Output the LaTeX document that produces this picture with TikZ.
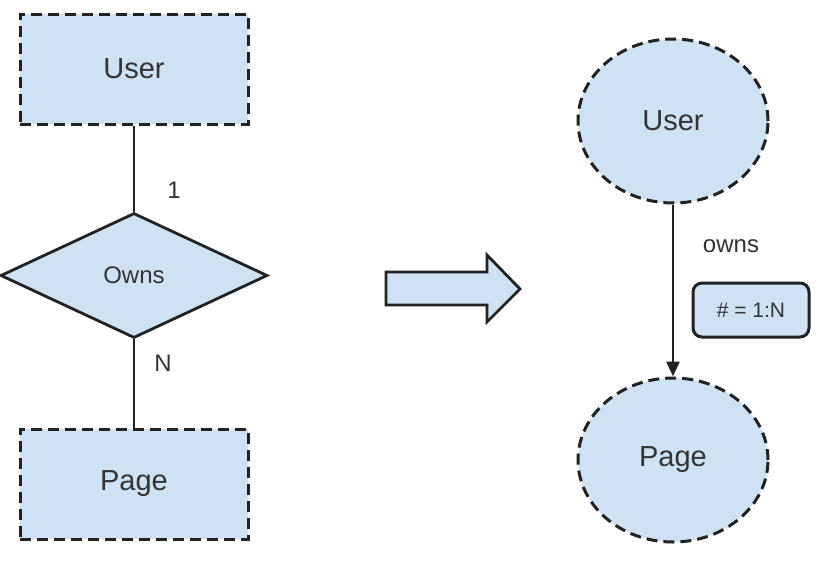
\documentclass[tikz,border=0pt]{standalone}
\usepackage{fontspec}
\setmainfont{Liberation Sans}
\usetikzlibrary{shapes.geometric,arrows.meta}
\definecolor{fillblue}{HTML}{CFE2F3}
\definecolor{txt}{HTML}{333333}
\definecolor{ln}{HTML}{222222}
\tikzset{
  dashbox/.style={draw=ln, fill=fillblue, line width=3pt, dash pattern=on 11pt off 6pt, text=txt},
  entity/.style={dashbox, rectangle, minimum width=228pt, minimum height=110pt, font=\fontsize{29}{32}\selectfont},
  ellnode/.style={dashbox, ellipse, minimum width=190pt, minimum height=164pt, inner sep=0pt, font=\fontsize{29}{32}\selectfont},
  rel/.style={draw=ln, fill=fillblue, line width=2.8pt, diamond, aspect=2.136, minimum width=267pt, minimum height=125pt, inner sep=0pt, text=txt, font=\fontsize{24}{28}\selectfont},
  conn/.style={draw=ln, line width=2.8pt},
  lbl/.style={text=txt, font=\fontsize{24}{28}\selectfont},
  attrbox/.style={draw=ln, fill=fillblue, line width=3pt, rounded corners=9pt, minimum width=116pt, minimum height=54pt, text=txt, font=\fontsize{21}{24}\selectfont}
}
\begin{document}
\begin{tikzpicture}[x=1pt,y=-1pt]
\useasboundingbox (0,0) rectangle (827,560);
% left ER diagram
\node[entity] (user) at (134,69) {User};
\node[rel] (owns) at (134,275.5) {Owns};
\node[entity] (page) at (134,484) {Page};
\draw[conn] (user.south) -- (owns.north);
\draw[conn] (owns.south) -- (page.north);
\node[lbl] (one) at (174,190) {1};
\node[lbl] (n) at (163,363) {N};
% big arrow
\draw[draw=ln, fill=fillblue, line width=2.8pt, line join=miter]
  (386,272) -- (487,272) -- (487,255) -- (520,289) -- (487,322) -- (487,305) -- (386,305) -- cycle;
% right graph
\node[ellnode] (guser) at (673,121) {User};
\node[ellnode] (gpage) at (673,460) {Page};
\draw[conn, -{Triangle[length=15pt,width=13pt]}] (guser.south) -- (gpage.north);
\node[lbl] (ownslbl) at (731,246) {owns};
\node[attrbox] (card) at (751,310) {\# = 1:N};
\end{tikzpicture}
\end{document}
